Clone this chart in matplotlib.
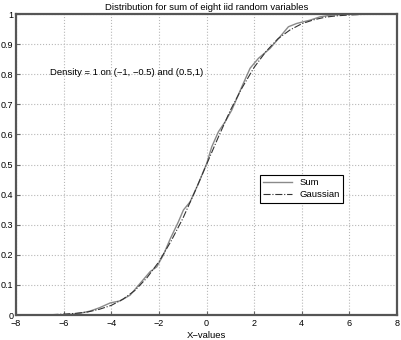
import matplotlib
matplotlib.use('Agg')
import matplotlib.pyplot as plt

plt.rcParams['font.family'] = ['Liberation Sans', 'DejaVu Sans']

sum_x = [-8, -7, -6, -5.73, -5.3, -4.89, -4.5, -4.05, -3.63, -3.21, -2.79, -2.37,
         -2.09, -1.81, -1.53, -1.18, -0.97, -0.69, -0.34, 0.01, 0.22, 0.5, 0.78,
         1.06, 1.48, 1.83, 2.18, 2.67, 3.09, 3.44, 3.79, 4.35, 4.77, 5.3, 6, 7, 8]
sum_y = [0, 0, 0, 0.002, 0.006, 0.013, 0.024, 0.04, 0.047, 0.066, 0.105, 0.144,
         0.16, 0.2, 0.252, 0.31, 0.349, 0.376, 0.437, 0.504, 0.559, 0.609, 0.642,
         0.681, 0.758, 0.82, 0.853, 0.886, 0.925, 0.958, 0.969, 0.98, 0.991, 0.997, 1, 1, 1]

# Gaussian curve
gauss_x = [-8, -7, -6.5, -6, -5.5, -5, -4.5, -4, -3.5, -3, -2.5, -2, -1.5, -1, -0.5,
           0, 0.5, 1, 1.5, 2, 2.5, 3, 3.5, 4, 4.5, 5, 5.5, 6, 6.5, 7, 8]
gauss_y = [0, 0.0006, 0.0013, 0.003, 0.0055, 0.01, 0.019, 0.032, 0.053, 0.082, 0.124,
           0.177, 0.244, 0.32, 0.408, 0.5, 0.592, 0.68, 0.756, 0.823, 0.876, 0.918,
           0.947, 0.968, 0.981, 0.99, 0.9945, 0.997, 0.9987, 0.9994, 1]

xticks = [-8, -6, -4, -2, 0, 2, 4, 6, 8]
yticks = [0, 0.1, 0.2, 0.3, 0.4, 0.5, 0.6, 0.7, 0.8, 0.9, 1]
ytick_labels = ['0', '0.1', '0.2', '0.3', '0.4', '0.5', '0.6', '0.7', '0.8', '0.9', '1']

fig = plt.figure(figsize=(4.01, 3.40), dpi=100)
ax = fig.add_axes([0.040, 0.0735, 0.950, 0.885])

ax.plot(sum_x, sum_y, color='#8a8a8a', lw=1.0, label='Sum')
ax.plot(gauss_x, gauss_y, color='#333333', lw=0.8, ls='-.', label='Gaussian')

ax.set_xlim(-8, 8)
ax.set_ylim(0, 1)
ax.set_xticks(xticks)
ax.set_xticklabels(['\u22128', '\u22126', '\u22124', '\u22122', '0', '2', '4', '6', '8'])
ax.set_yticks(yticks)
ax.set_yticklabels(ytick_labels)
ax.tick_params(direction='in', length=3, labelsize=6.5, color='#666666')
ax.tick_params(axis='x', pad=3)
ax.tick_params(axis='y', pad=2)
ax.grid(True, ls=':', color='#b8b8b8', lw=0.8)
for s in ax.spines.values():
    s.set_linewidth(1.6)
    s.set_color('#555555')

ax.set_title('Distribution for sum of eight iid random variables', fontsize=6.8, pad=3)
ax.set_xlabel('X\u2212values', fontsize=6.8, labelpad=2)
ax.text(-6.57, 0.807, 'Density = 1 on (\u22121, \u22120.5) and (0.5,1)', fontsize=6.8, va='center')

leg = ax.legend(loc='upper left', bbox_to_anchor=(0.627, 0.482), fontsize=6.8,
                fancybox=False, edgecolor='black', framealpha=1, borderpad=0.4,
                handlelength=3, labelspacing=0.3)
leg.get_frame().set_linewidth(0.8)

fig.savefig('out.png', dpi=100)
